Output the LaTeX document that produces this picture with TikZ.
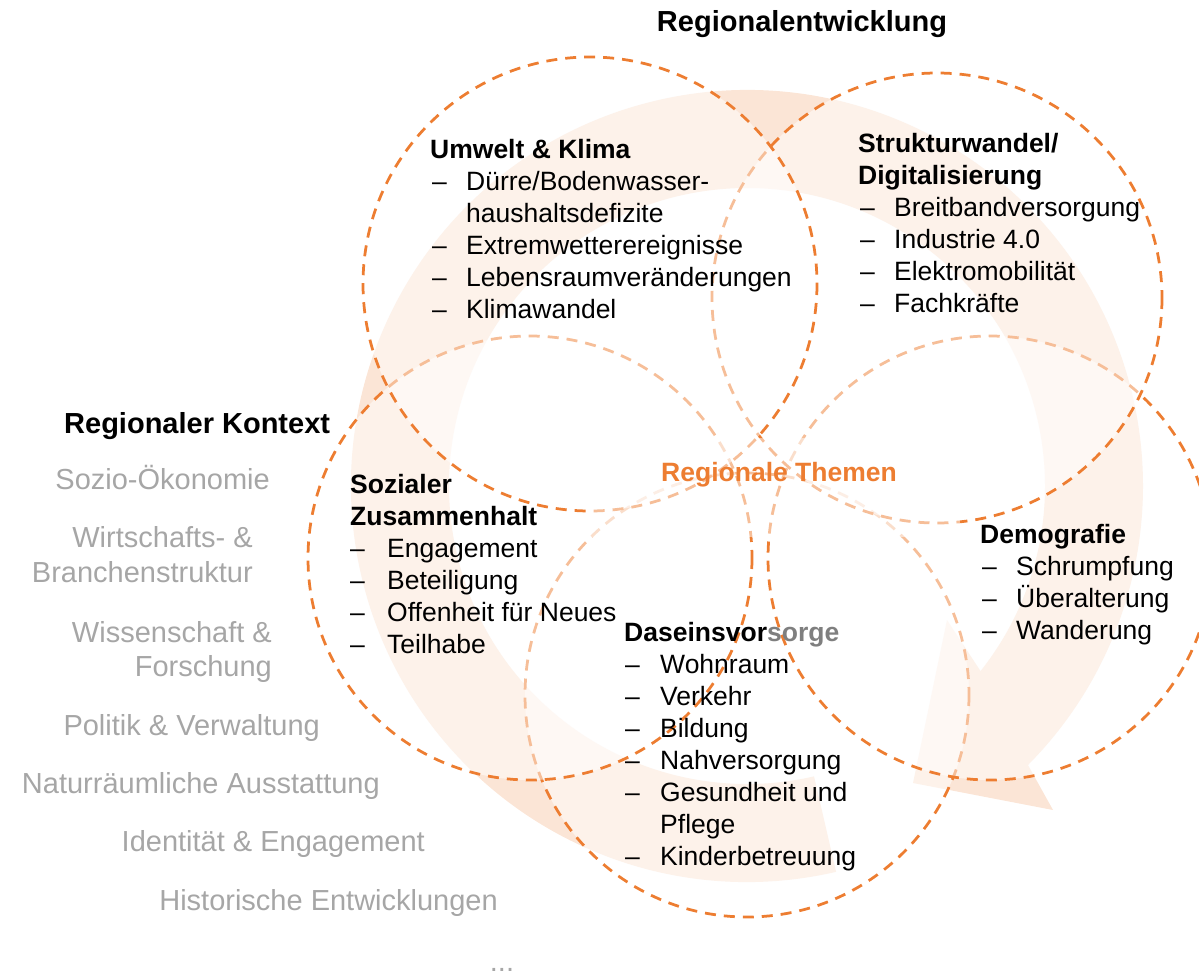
\documentclass[tikz,border=0pt]{standalone}
\usepackage{fontspec}
\setmainfont{Liberation Sans}
\usetikzlibrary{calc}
\definecolor{orangeC}{HTML}{ED7D31}
\definecolor{grayC}{HTML}{A6A6A6}
\definecolor{sorgeC}{HTML}{7F7F7F}
\newcommand\myitem[2]{\makebox[#1pt][l]{–}#2}
\begin{document}
\begin{tikzpicture}[x=1pt,y=-1pt,
  ring/.style={draw=orangeC, line width=2.75pt, dash pattern=on 11pt off 8pt, fill=white, fill opacity=0.5},
  body/.style={anchor=base west, inner sep=0pt, font=\fontsize{26.5}{32}\selectfont},
  head/.style={anchor=base west, inner sep=0pt, font=\fontsize{26.5}{32}\selectfont\bfseries},
  big/.style={inner sep=0pt, font=\fontsize{29}{35}\selectfont\bfseries},
  ctx/.style={anchor=base east, inner sep=0pt, text=grayC, font=\fontsize{29}{35}\selectfont}]
\useasboundingbox (0,0) rectangle (1199,972);
% big circular arrow
\coordinate (C) at (747,486);
\fill[orangeC!20] ($(C)+(77:396)$) arc[start angle=77,end angle=404.8,radius=396]
  -- (1053,810) -- (913,783) -- (947,620)
  -- ($(C)+(398.4:298)$) arc[start angle=398.4,end angle=77,radius=298] -- cycle;
% circles
\path[ring] (747,695) circle[radius=222];
\path[ring] (990,558) circle[radius=222];
\path[ring] (937,298) circle[radius=225];
\path[ring] (530,558) circle[radius=222];
\path[ring] (590,284) circle[radius=227];
% central text box
\fill[white, opacity=0.5] (587,438) rectangle (960,537);
% titles
\node[big, anchor=base] (title) at (802,31) {Regionalentwicklung};
\node[big, anchor=base west] (kontext) at (64,433) {Regionaler Kontext};
\node[anchor=base, inner sep=0pt, text=orangeC, font=\fontsize{26.5}{32}\selectfont\bfseries] (themen) at (779,481.5) {Regionale Themen};
% context list
\node[ctx] (k1) at (270,489) {Sozio-Ökonomie};
\node[ctx] (k2) at (253,547) {Wirtschafts- \&};
\node[ctx] (k3) at (253,582) {Branchenstruktur};
\node[ctx] (k4) at (272,642) {Wissenschaft \&};
\node[ctx] (k5) at (272,676) {Forschung};
\node[ctx] (k6) at (320,735) {Politik \& Verwaltung};
\node[ctx] (k7) at (380,793) {Naturräumliche Ausstattung};
\node[ctx] (k8) at (425,851) {Identität \& Engagement};
\node[ctx] (k9) at (498,910) {Historische Entwicklungen};
\node[ctx, anchor=base] (k10) at (502,971) {...};
% Umwelt & Klima
\node[head] (u0) at (430,158.5) {Umwelt \& Klima};
\node[body] (u1) at (432,190.5) {\myitem{34}{Dürre/Bodenwasser-}};
\node[body] (u2) at (466,222.5) {haushaltsdefizite};
\node[body] (u3) at (432,254.5) {\myitem{34}{Extremwetterereignisse}};
\node[body] (u4) at (432,286.5) {\myitem{34}{Lebensraumveränderungen}};
\node[body] (u5) at (432,318.5) {\myitem{34}{Klimawandel}};
% Strukturwandel
\node[head] (s0) at (858,152.5) {Strukturwandel/};
\node[head] (s1) at (858,184.5) {Digitalisierung};
\node[body] (s2) at (860,216.5) {\myitem{34}{Breitbandversorgung}};
\node[body] (s3) at (860,248.5) {\myitem{34}{Industrie 4.0}};
\node[body] (s4) at (860,280.5) {\myitem{34}{Elektromobilität}};
\node[body] (s5) at (860,312.5) {\myitem{34}{Fachkräfte}};
% Sozialer Zusammenhalt
\node[head] (z0) at (350,493.5) {Sozialer};
\node[head] (z1) at (350,525.5) {Zusammenhalt};
\node[body] (z2) at (350,557.5) {\myitem{37}{Engagement}};
\node[body] (z3) at (350,589.5) {\myitem{37}{Beteiligung}};
\node[body] (z4) at (350,621.5) {\myitem{37}{Offenheit für Neues}};
\node[body] (z5) at (350,653.5) {\myitem{37}{Teilhabe}};
% Demografie
\node[head] (d0) at (980,543.5) {Demografie};
\node[body] (d1) at (982,575.5) {\myitem{34}{Schrumpfung}};
\node[body] (d2) at (982,607.5) {\myitem{34}{Überalterung}};
\node[body] (d3) at (982,639.5) {\myitem{34}{Wanderung}};
% Daseinsvorsorge
\node[head] (v0) at (624,641.5) {Daseinsvor\textcolor{sorgeC}{sorge}};
\node[body] (v1) at (625,673.5) {\myitem{35}{Wohnraum}};
\node[body] (v2) at (625,705.5) {\myitem{35}{Verkehr}};
\node[body] (v3) at (625,737.5) {\myitem{35}{Bildung}};
\node[body] (v4) at (625,769.5) {\myitem{35}{Nahversorgung}};
\node[body] (v5) at (625,801.5) {\myitem{35}{Gesundheit und}};
\node[body] (v6) at (660,833.5) {Pflege};
\node[body] (v7) at (625,865.5) {\myitem{35}{Kinderbetreuung}};
\end{tikzpicture}
\end{document}
